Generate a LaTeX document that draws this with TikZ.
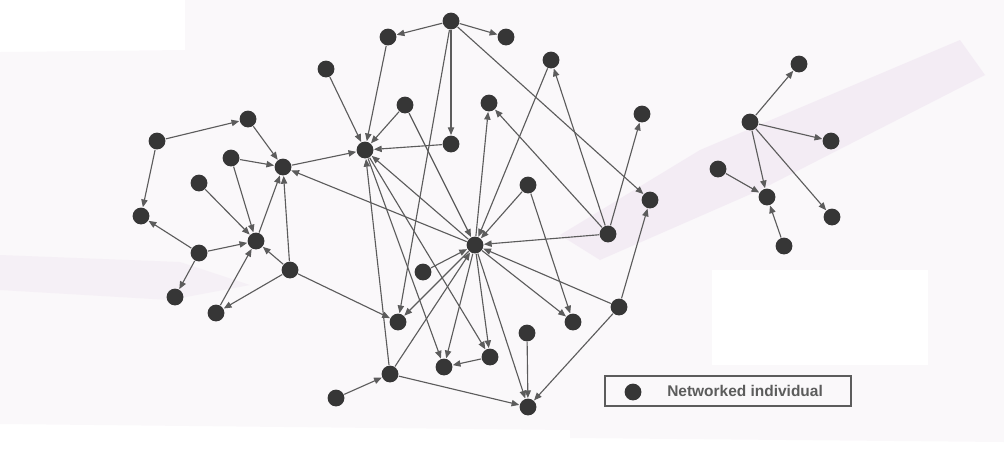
\documentclass[tikz,border=0pt]{standalone}
\usepackage{fontspec}
\setsansfont{Liberation Sans}
\usepackage{tikz}
\usetikzlibrary{arrows.meta}

\definecolor{nodegray}{HTML}{363636}
\definecolor{linkgray}{HTML}{5C5C5C}
\definecolor{paper}{HTML}{FAF8FA}
\definecolor{streak}{HTML}{EFE4F1}

\begin{document}
\begin{tikzpicture}[x=0.025cm, y=-0.025cm, line width=0.8pt,
    indiv/.style={circle, fill=nodegray, inner sep=0pt, minimum size=0.42cm},
    link/.style={draw=linkgray, -{Triangle[length=5.5pt, width=4.5pt]}}]
    \useasboundingbox (0,0) rectangle (1004,450);

    \fill[paper] (0,52) -- (185,50) -- (185,0) -- (1004,0) -- (1004,442) -- (570,438) -- (570,430) -- (0,424) -- cycle;
    \fill[streak, opacity=.6] (560,235) -- (700,150) -- (960,40) -- (985,75) -- (760,190) -- (600,260) -- cycle;
    \fill[streak, opacity=.4] (0,255) -- (180,262) -- (250,285) -- (170,300) -- (0,290) -- cycle;
    \fill[white] (712,270) rectangle (928,365);

    % main network
    \node[indiv] (t1) at (451,21) {};
    \node[indiv] (t2) at (388,37) {};
    \node[indiv] (t3) at (506,37) {};
    \node[indiv] (a) at (326,69) {};
    \node[indiv] (b) at (551,60) {};
    \node[indiv] (c) at (405,105) {};
    \node[indiv] (d) at (489,103) {};
    \node[indiv] (e) at (642,114) {};
    \node[indiv] (l1) at (248,119) {};
    \node[indiv] (l2) at (157,141) {};
    \node[indiv] (l3) at (231,158) {};
    \node[indiv] (h1) at (365,150) {};
    \node[indiv] (n) at (451,144) {};
    \node[indiv] (h2) at (283,167) {};
    \node[indiv] (f) at (199,183) {};
    \node[indiv] (g) at (141,216) {};
    \node[indiv] (h3) at (256,241) {};
    \node[indiv] (i) at (199,253) {};
    \node[indiv] (j) at (175,297) {};
    \node[indiv] (k) at (216,313) {};
    \node[indiv] (m) at (290,270) {};
    \node[indiv] (hub) at (475,245) {};
    \node[indiv] (o) at (528,185) {};
    \node[indiv] (p) at (608,234) {};
    \node[indiv] (q) at (650,200) {};
    \node[indiv] (r) at (423,272) {};
    \node[indiv] (s) at (619,307) {};
    \node[indiv] (u) at (398,322) {};
    \node[indiv] (v) at (573,322) {};
    \node[indiv] (w) at (527,333) {};
    \node[indiv] (x) at (490,357) {};
    \node[indiv] (y) at (444,367) {};
    \node[indiv] (z) at (390,374) {};
    \node[indiv] (aa) at (336,398) {};
    \node[indiv] (ab) at (528,407) {};

    \draw[link] (t1) -- (t2);
    \draw[link] (t1) -- (t3);
    \draw[link] (t1) -- (n);
    \draw[link] (t1) -- (u);
    \draw[link] (t1) -- (q);

    \draw[link] (t2) -- (h1);
    \draw[link] (a) -- (h1);
    \draw[link] (c) -- (h1);
    \draw[link] (n) -- (h1);
    \draw[link] (h2) -- (h1);
    \draw[link] (z) -- (h1);
    \draw[link] (hub) -- (h1);
    \draw[link] (h1) -- (y);
    \draw[link] (h1) -- (x);

    \draw[link] (c) -- (hub);
    \draw[link] (b) -- (hub);
    \draw[link] (o) -- (hub);
    \draw[link] (r) -- (hub);
    \draw[link] (z) -- (hub);
    \draw[link] (p) -- (hub);
    \draw[link] (s) -- (hub);
    \draw[link] (hub) -- (d);
    \draw[link] (hub) -- (h2);
    \draw[link] (hub) -- (u);
    \draw[link] (hub) -- (y);
    \draw[link] (hub) -- (x);
    \draw[link] (hub) -- (ab);
    \draw[link] (hub) -- (v);

    \draw[link] (p) -- (d);
    \draw[link] (p) -- (b);
    \draw[link] (p) -- (e);
    \draw[link] (s) -- (q);
    \draw[link] (o) -- (v);

    \draw[link] (l2) -- (l1);
    \draw[link] (l1) -- (h2);
    \draw[link] (l3) -- (h2);
    \draw[link] (h3) -- (h2);
    \draw[link] (m) -- (h2);
    \draw[link] (l2) -- (g);
    \draw[link] (l3) -- (h3);
    \draw[link] (f) -- (h3);
    \draw[link] (i) -- (h3);
    \draw[link] (i) -- (g);
    \draw[link] (i) -- (j);
    \draw[link] (k) -- (h3);
    \draw[link] (m) -- (h3);
    \draw[link] (m) -- (k);
    \draw[link] (m) -- (u);

    \draw[link] (aa) -- (z);
    \draw[link] (z) -- (ab);
    \draw[link] (x) -- (y);
    \draw[link] (w) -- (ab);
    \draw[link] (s) -- (ab);

    % small cluster
    \node[indiv] (rc) at (750,122) {};
    \node[indiv] (r1) at (799,64) {};
    \node[indiv] (r2) at (831,141) {};
    \node[indiv] (r3) at (718,169) {};
    \node[indiv] (r4) at (767,197) {};
    \node[indiv] (r5) at (832,217) {};
    \node[indiv] (r6) at (784,246) {};

    \draw[link] (rc) -- (r1);
    \draw[link] (rc) -- (r2);
    \draw[link] (rc) -- (r4);
    \draw[link] (rc) -- (r5);
    \draw[link] (r3) -- (r4);
    \draw[link] (r6) -- (r4);

    % key
    \draw[linkgray] (605,376) rectangle (851,406);
    \node[indiv] (key) at (633,392) {};
    \node[anchor=west, text=linkgray, font=\sffamily\bfseries\fontsize{11}{13}\selectfont] (keytext) at (662,391) {Networked individual};
\end{tikzpicture}
\end{document}
